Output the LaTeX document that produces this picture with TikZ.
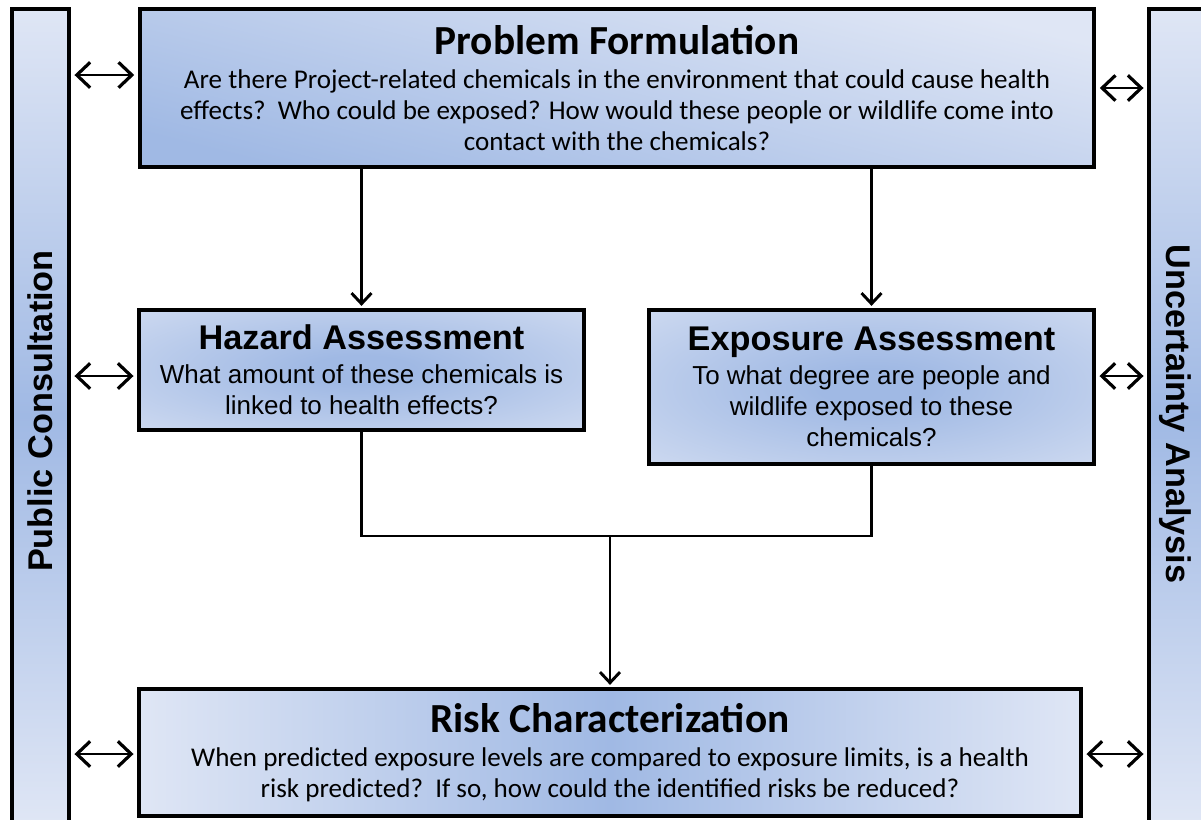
\documentclass[tikz,border=0pt]{standalone}
\usepackage{fontspec}
\setmainfont{Liberation Sans}
\newfontfamily\calfont{Carlito}
\usetikzlibrary{arrows.meta}
\definecolor{boxlight}{RGB}{223,230,245}
\definecolor{boxdark}{RGB}{160,185,228}
\pgfdeclareradialshading{glow}{\pgfpoint{0bp}{0bp}}{color(0bp)=(boxdark); color(6bp)=(boxdark); color(48bp)=(boxlight); color(50bp)=(boxlight)}
\newcommand{\headfont}{\fontsize{25.7}{28}\selectfont\bfseries}
\newcommand{\bodyfont}{\fontsize{19.5}{23.25}\selectfont}
\newcommand{\calhead}{\calfont\fontsize{31}{33}\selectfont\bfseries}
\newcommand{\calbody}{\calfont\fontsize{20.3}{23.5}\selectfont}
\tikzset{every picture/.style={x=0.75pt,y=-0.75pt}}
\tikzset{box/.style={draw=black,line width=3.2pt,align=center,inner sep=0pt}}
\tikzset{bar/.style={box,top color=boxlight,bottom color=boxlight,middle color=boxdark}}
\tikzset{glowbox/.style={box,shading=glow}}
\tikzset{line/.style={line width=1.8pt}}
\tikzset{edge/.style={line,-{Straight Barb[length=8pt,width=15pt,line width=2.2pt]},shorten >=1.5pt}}
\tikzset{link/.style={line,{Straight Barb[length=10pt,width=19pt,line width=2.4pt]}-{Straight Barb[length=10pt,width=19pt,line width=2.4pt]},shorten <=2.5pt,shorten >=2.5pt}}

\begin{document}
\begin{tikzpicture}
\useasboundingbox (0,0) rectangle (1201,819);
% side bars
\node [bar,minimum width=42.75pt,minimum height=609.75pt] (pc) at (40.5,415.5) {};
\node [rotate=90,font=\headfont] (pclabel) at (40.5,411) {Public Consultation};
\node [bar,minimum width=44.25pt,minimum height=609.75pt] (ua) at (1178.5,415.5) {};
\node [rotate=-90,font=\headfont] (ualabel) at (1175,414) {Uncertainty Analysis};
% steps
\node [box,top color=boxlight,bottom color=boxdark,shading angle=-14,
  minimum width=716pt,minimum height=118.5pt,font=\calbody] (pf) at (617,88)
  {{\calhead Problem Formulation}\\[2pt]
   Are there Project-related chemicals in the environment that could cause health\\
   effects?\ \ Who could be exposed? How would these people or wildlife come into\\
   contact with the chemicals?};
\node [glowbox,minimum width=333.75pt,minimum height=90pt,font=\bodyfont] (hz) at (361.5,370)
  {{\headfont Hazard Assessment}\\[2pt]
   What amount of these chemicals is\\
   linked to health effects?};
\node [glowbox,minimum width=333.75pt,minimum height=115.5pt,font=\bodyfont] (ex) at (871.5,387)
  {{\headfont Exposure Assessment}\\[2pt]
   To what degree are people and\\
   wildlife exposed to these\\
   chemicals?};
\node [box,left color=boxlight,right color=boxlight,middle color=boxdark,
  minimum width=706.5pt,minimum height=95.25pt,font=\calbody] (rc) at (610,752.5)
  {{\calhead Risk Characterization}\\[2pt]
   When predicted exposure levels are compared to\ exposure limits, is a health\\
   risk predicted?\ \ If so, how could the identified risks be reduced?};
% flow
\draw [edge] (pf.south -| hz.north) -- (hz.north);
\draw [edge] (pf.south -| ex.north) -- (ex.north);
\coordinate (join) at (rc.north |- 0,536);
\draw [line] (hz.south) |- (join) -| (ex.south);
\draw [edge] (join) -- (rc.north);
% links to the side bars
\draw [link] (pc.east |- 0,75) -- (pf.west |- 0,75);
\draw [link] (pc.east |- 0,376) -- (hz.west |- 0,376);
\draw [link] (pc.east |- 0,754) -- (rc.west |- 0,754);
\draw [link] (pf.east) -- (ua.west |- pf.east);
\draw [link] (ex.east |- 0,376) -- (ua.west |- 0,376);
\draw [link] (rc.east |- 0,754) -- (ua.west |- 0,754);
\end{tikzpicture}
\end{document}
